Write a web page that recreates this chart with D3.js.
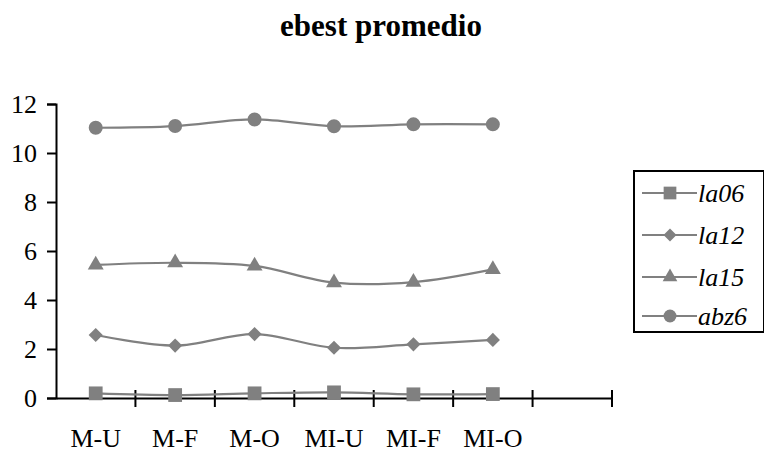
<!DOCTYPE html>
<html>
<head>
<meta charset="utf-8">
<script src="https://cdn.jsdelivr.net/npm/d3@7"></script>
<style>
  body { margin: 0; background: #fff; }
</style>
</head>
<body>
<div id="container"></div>
<script>
/* CONSTANTS AND GLOBALS */
const width = 764, height = 452,
  margin = {top: 104, left: 56, bottom: 54, right: 152};
const serif = "'Liberation Serif', 'Times New Roman', serif";

/* DATA */
const categories = ["M-U", "M-F", "M-O", "MI-U", "MI-F", "MI-O", ""];
const seriesNames = ["la06", "la12", "la15", "abz6"];
const la06 = [0.19, 0.12, 0.19, 0.23, 0.15, 0.16];
const la12 = [2.57, 2.14, 2.61, 2.05, 2.19, 2.37];
const la15 = [5.43, 5.52, 5.39, 4.71, 4.73, 5.25];
const abz6 = [11.03, 11.1, 11.37, 11.09, 11.17, 11.17];
const yTicks = [0, 2, 4, 6, 8, 10, 12];

const series = [la06, la12, la15, abz6].map((vals, i) => ({
  name: seriesNames[i],
  values: vals.map((v, j) => ({cat: categories[j], value: v}))
}));
const symbols = [d3.symbolSquare, d3.symbolSquare, d3.symbolTriangle, d3.symbolCircle];
const symSize = [190, 100, 110, 154];
const symRot = [0, 45, 0, 0];
const gray = "#808080";

// CREATE SVG ELEMENT
const svg = d3.select("#container")
  .append("svg")
  .attr("width", width)
  .attr("height", height);

// TITLE
svg.append("text")
  .attr("x", 381).attr("y", 36)
  .attr("text-anchor", "middle")
  .style("font-family", serif)
  .style("font-size", "31px").style("font-weight", "bold")
  .text("ebest promedio");

// SCALES
const xScale = d3.scaleBand()
  .domain(categories)
  .range([margin.left, width - margin.right]);

const yScale = d3.scaleLinear()
  .domain([0, 12])
  .range([height - margin.bottom, margin.top]);

// AXES
const yAxis = d3.axisLeft(yScale).tickValues(yTicks).tickSize(9).tickPadding(10);
const gy = svg.append("g")
  .attr("transform", `translate(${margin.left},0)`)
  .call(yAxis);
gy.selectAll("text").style("font-family", serif).style("font-size", "26px").attr("fill", "#000");
gy.select(".domain").attr("stroke-width", 2);
gy.selectAll(".tick line").attr("stroke-width", 2);

const xAxis = d3.axisBottom(xScale).tickSize(0).tickPadding(31);
const gx = svg.append("g")
  .attr("transform", `translate(0,${height - margin.bottom})`)
  .call(xAxis);
gx.selectAll("text").style("font-family", serif).style("font-size", "26px").attr("fill", "#000");
gx.select(".domain").attr("stroke-width", 2);
// tick marks crossing the axis at band boundaries
const bounds = categories.map(c => xScale(c)).concat([xScale.range()[1]]).slice(1);
gx.selectAll(".bound").data(bounds).join("line")
  .attr("x1", d => d).attr("x2", d => d)
  .attr("y1", -8).attr("y2", 9)
  .attr("stroke", "#000").attr("stroke-width", 2);

// LINES
const lineGen = d3.line()
  .x(d => xScale(d.cat) + xScale.bandwidth() / 2)
  .y(d => yScale(d.value))
  .curve(d3.curveCatmullRom.alpha(0.5));

svg.selectAll(".line")
  .data(series)
  .join("path")
  .attr("class", "line")
  .attr("d", d => lineGen(d.values))
  .attr("fill", "none")
  .attr("stroke", gray)
  .attr("stroke-width", 2.2);

// MARKERS
series.forEach((s, i) => {
  svg.selectAll(".m" + i)
    .data(s.values)
    .join("path")
    .attr("class", "m" + i)
    .attr("transform", d => `translate(${xScale(d.cat) + xScale.bandwidth() / 2},${yScale(d.value)}) rotate(${symRot[i]})`)
    .attr("d", d3.symbol().type(symbols[i]).size(symSize[i]))
    .attr("fill", gray);
});

// LEGEND
const legend = svg.append("g").attr("transform", "translate(634,171)");
legend.append("rect")
  .attr("width", 130).attr("height", 161)
  .attr("fill", "#fff").attr("stroke", "#000").attr("stroke-width", 2);
const rowY = [22, 64, 106, 145];
seriesNames.forEach((name, i) => {
  const g = legend.append("g").attr("transform", `translate(0,${rowY[i]})`);
  g.append("line").attr("x1", 8).attr("x2", 63)
    .attr("stroke", gray).attr("stroke-width", 2.2);
  g.append("path").attr("transform", `translate(36,0) rotate(${symRot[i]})`)
    .attr("d", d3.symbol().type(symbols[i]).size(symSize[i] * 0.85))
    .attr("fill", gray);
  g.append("text").attr("x", 64).attr("y", 9)
    .style("font-family", serif)
    .style("font-size", "26px").style("font-style", "italic")
    .text(name);
});
</script>
</body>
</html>
